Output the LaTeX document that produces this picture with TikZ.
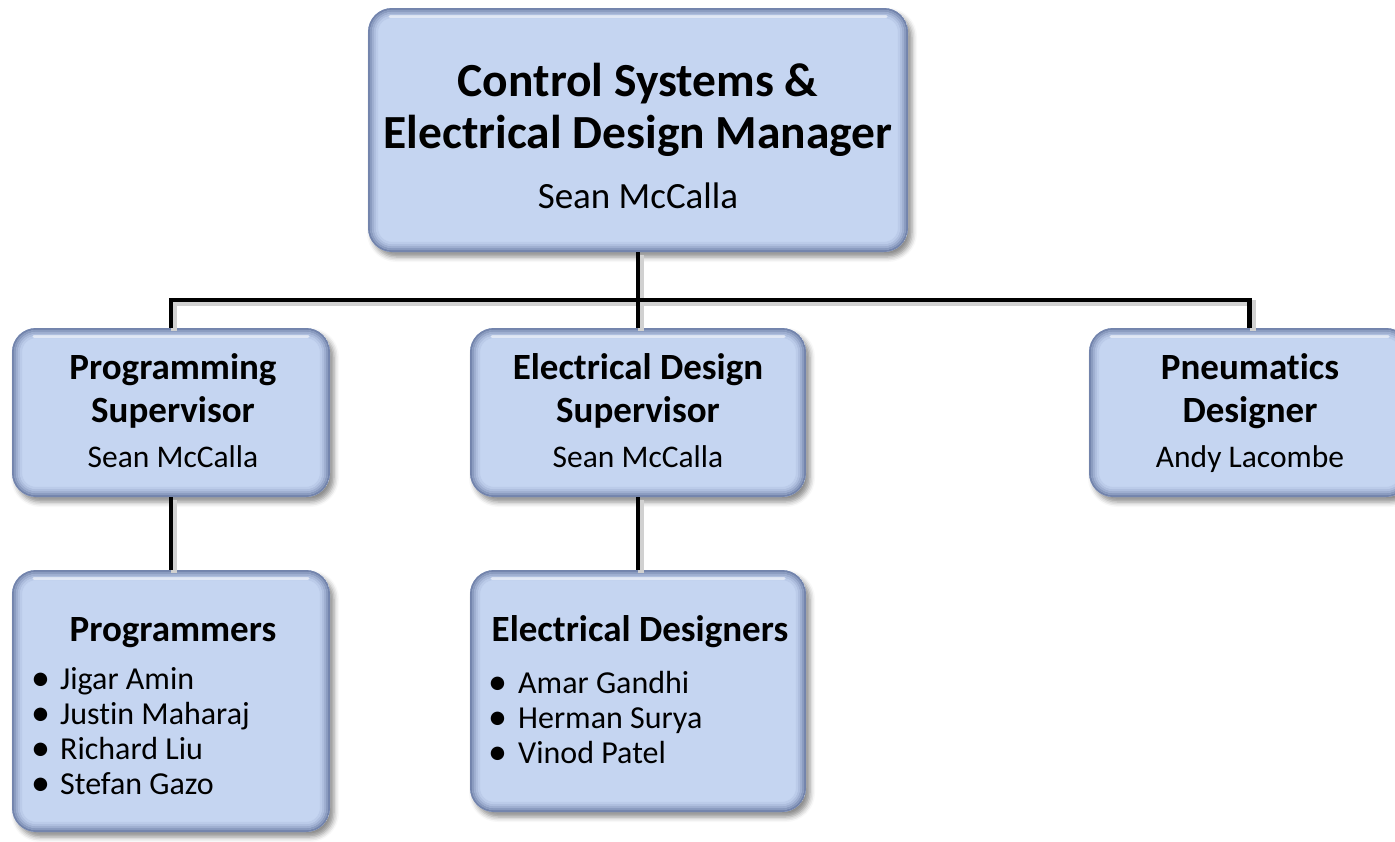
\documentclass[tikz,border=0pt]{standalone}
\usepackage{fontspec}
\setmainfont{Carlito}[Ligatures=NoCommon]
\usetikzlibrary{shadows.blur}
\definecolor{boxfill}{RGB}{197,213,241}
\definecolor{boxedge}{RGB}{115,132,172}
\newcommand{\bul}{{\fontsize{38}{38}\selectfont\raisebox{-1.5pt}{\textbullet}}}
\tikzset{
  orgbox/.style={rounded corners=24pt, fill=boxfill, draw=none, inner sep=0pt,
    blur shadow={shadow xshift=4pt, shadow yshift=-5pt, shadow blur radius=5pt, shadow opacity=45},
    path picture={
      \foreach \i/\c in {1/100,3/72,5/48,7/28,9/12}{
        \draw[line width=2.2pt, draw=boxedge!\c!boxfill, rounded corners={(24-\i)*1pt}]
          ([xshift=\i pt,yshift=-\i pt]path picture bounding box.north west) rectangle
          ([xshift=-\i pt,yshift=\i pt]path picture bounding box.south east);
      }
      \draw[white, opacity=0.55, line width=3pt, line cap=round]
        ([xshift=22pt,yshift=-8pt]path picture bounding box.north west) --
        ([xshift=-22pt,yshift=-8pt]path picture bounding box.north east);
    }},
  conn/.style={line width=4.5pt, black,
    preaction={draw, black!18, line width=6pt, transform canvas={xshift=3pt, yshift=-3pt}}},
  titletxt/.style={anchor=base, inner sep=0pt, font=\fontsize{47.5}{52}\selectfont\bfseries},
  toptname/.style={anchor=base, inner sep=0pt, font=\fontsize{37}{44}\selectfont},
  subtitle/.style={anchor=base, inner sep=0pt, font=\fontsize{37}{42}\selectfont\bfseries},
  subname/.style={anchor=base, inner sep=0pt, font=\fontsize{31.5}{38}\selectfont},
  item/.style={anchor=base west, inner sep=0pt, font=\fontsize{32}{35}\selectfont},
}
\begin{document}
\begin{tikzpicture}[x=1pt,y=-1pt]
\useasboundingbox (0,0) rectangle (1395,841);
% boxes
\node[orgbox, minimum width=540pt, minimum height=244pt] (top) at (638,130) {};
\node[orgbox, minimum width=318pt, minimum height=169pt] (ps) at (171,412.5) {};
\node[orgbox, minimum width=336pt, minimum height=169pt] (es) at (638,412.5) {};
\node[orgbox, minimum width=321pt, minimum height=169pt] (pn) at (1249.5,412.5) {};
\node[orgbox, minimum width=318pt, minimum height=262pt] (pg) at (171,701) {};
\node[orgbox, minimum width=336pt, minimum height=242pt] (ed) at (638,691) {};
% connectors
\coordinate (bus) at (638,300);
\draw[conn] (top.south) -- (bus);
\draw[conn] (ps.north) -- (ps.north |- bus) -- (pn.north |- bus) -- (pn.north);
\draw[conn] (es.north) -- (es.north |- bus);
\draw[conn] (ps.south) -- (pg.north);
\draw[conn] (es.south) -- (ed.north);
% texts
\node[titletxt] (t1) at (638,96) {Control Systems \&};
\node[titletxt] (t2) at (638,148) {Electrical Design Manager};
\node[toptname] (t3) at (638,208) {Sean McCalla};
\node[subtitle] (p1) at (173,379) {Programming};
\node[subtitle] (p2) at (173,422) {Supervisor};
\node[subname] (p3) at (173,467) {Sean McCalla};
\node[subtitle] (e1) at (638,379) {Electrical Design};
\node[subtitle] (e2) at (638,422) {Supervisor};
\node[subname] (e3) at (638,467) {Sean McCalla};
\node[subtitle] (n1) at (1250,379) {Pneumatics};
\node[subtitle] (n2) at (1250,422) {Designer};
\node[subname] (n3) at (1250,467) {Andy Lacombe};
\node[subtitle] (g0) at (173,641) {Programmers};
\node[item] (g1) at (31,689) {\makebox[29pt][l]{\bul}Jigar Amin};
\node[item] (g2) at (31,724) {\makebox[29pt][l]{\bul}Justin Maharaj};
\node[item] (g3) at (31,759) {\makebox[29pt][l]{\bul}Richard Liu};
\node[item] (g4) at (31,794) {\makebox[29pt][l]{\bul}Stefan Gazo};
\node[subtitle] (d0) at (640,641) {Electrical Designers};
\node[item] (d1) at (488,693) {\makebox[30pt][l]{\bul}Amar Gandhi};
\node[item] (d2) at (488,728) {\makebox[30pt][l]{\bul}Herman Surya};
\node[item] (d3) at (488,763) {\makebox[30pt][l]{\bul}Vinod Patel};
\end{tikzpicture}
\end{document}
